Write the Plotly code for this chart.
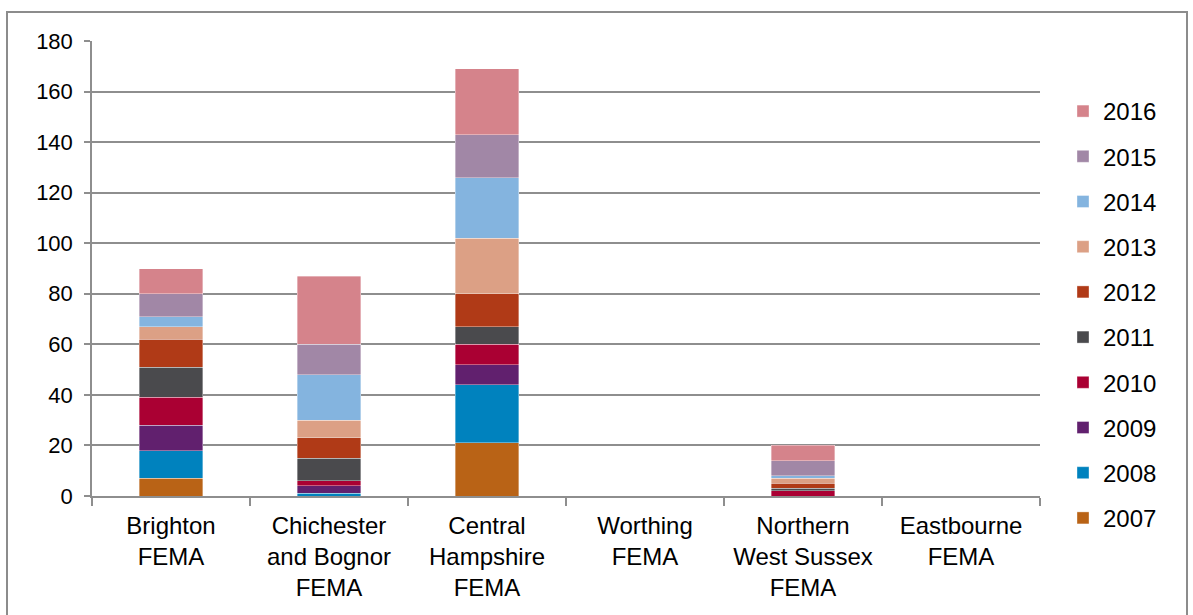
import plotly.graph_objects as go

# Housing market areas along the x axis
categories = [
    "Brighton<br>FEMA",
    "Chichester<br>and Bognor<br>FEMA",
    "Central<br>Hampshire<br>FEMA",
    "Worthing<br>FEMA",
    "Northern<br>West Sussex<br>FEMA",
    "Eastbourne<br>FEMA",
]

years = ["2007", "2008", "2009", "2010", "2011", "2012", "2013", "2014", "2015", "2016"]

# Yearly values per area (same order as categories)
v2007 = [7, 0, 21, 0, 0, 0]
v2008 = [11, 1, 23, 0, 0, 0]
v2009 = [10, 3, 8, 0, 0, 0]
v2010 = [11, 2, 8, 0, 2, 0]
v2011 = [12, 9, 7, 0, 1, 0]
v2012 = [11, 8, 13, 0, 2, 0]
v2013 = [5, 7, 22, 0, 2, 0]
v2014 = [4, 18, 24, 0, 1, 0]
v2015 = [9, 12, 17, 0, 6, 0]
v2016 = [10, 27, 26, 0, 6, 0]

series = [v2007, v2008, v2009, v2010, v2011, v2012, v2013, v2014, v2015, v2016]

colors = ["#B96316", "#0082BE", "#61206E", "#AA0033", "#4A4A4D",
          "#B03A17", "#DCA085", "#84B4DF", "#A187A6", "#D5838B"]

FONT = "Liberation Sans, Arial, sans-serif"
GRID = "#8E8E8E"

fig = go.Figure()
n = len(years)
for i, (year, vals, col) in enumerate(zip(years, series, colors)):
    fig.add_trace(go.Bar(
        name=year,
        x=categories,
        y=vals,
        marker=dict(color=col, line=dict(color="rgba(255,255,255,0.6)", width=0.6)),
        legendgroup=year,
        legendrank=1000 + (n - i),  # latest year listed first
    ))

W, H = 1193, 615
L, R, T, B = 92, 153, 41, 119
pw, ph = W - L - R, H - T - B

fig.update_layout(
    width=W, height=H,
    barmode="stack",
    bargap=0.6,
    paper_bgcolor="white",
    plot_bgcolor="white",
    margin=dict(l=L, r=R, t=T, b=B, pad=0),
    font=dict(family=FONT, size=24, color="black"),
    showlegend=True,
    legend=dict(
        traceorder="grouped",
        tracegroupgap=11,
        x=1.0 + 23 / pw, xanchor="left",
        y=(H - B - 89) / ph, yanchor="top",
        font=dict(family=FONT, size=24, color="black"),
        itemwidth=30,
        maxheight=600,
        bgcolor="rgba(0,0,0,0)",
    ),
    xaxis=dict(
        type="category",
        tickson="boundaries",
        ticks="outside",
        ticklen=8,
        tickwidth=1.5,
        tickcolor=GRID,
        showline=True,
        linecolor=GRID,
        linewidth=1.5,
        showgrid=False,
        tickfont=dict(family=FONT, size=24, color="black"),
        ticklabelstandoff=7,
        fixedrange=True,
    ),
    yaxis=dict(
        range=[0, 180],
        dtick=20,
        ticks="outside",
        ticklen=6,
        tickwidth=1.5,
        tickcolor=GRID,
        showline=True,
        linecolor=GRID,
        linewidth=1.5,
        showgrid=True,
        gridcolor=GRID,
        gridwidth=1.5,
        zeroline=False,
        tickfont=dict(family=FONT, size=22, color="black"),
        ticklabelstandoff=7,
        fixedrange=True,
    ),
    shapes=[
        # outer chart frame
        dict(
            type="rect", xref="paper", yref="paper",
            x0=(7 - L) / pw, x1=(1187 - L) / pw,
            y0=(H - B - 640) / ph, y1=(H - B - 12) / ph,
            line=dict(color="#8C8C8C", width=2),
            fillcolor="rgba(0,0,0,0)",
            layer="below",
        )
    ],
)

fig.write_html("out.html")
